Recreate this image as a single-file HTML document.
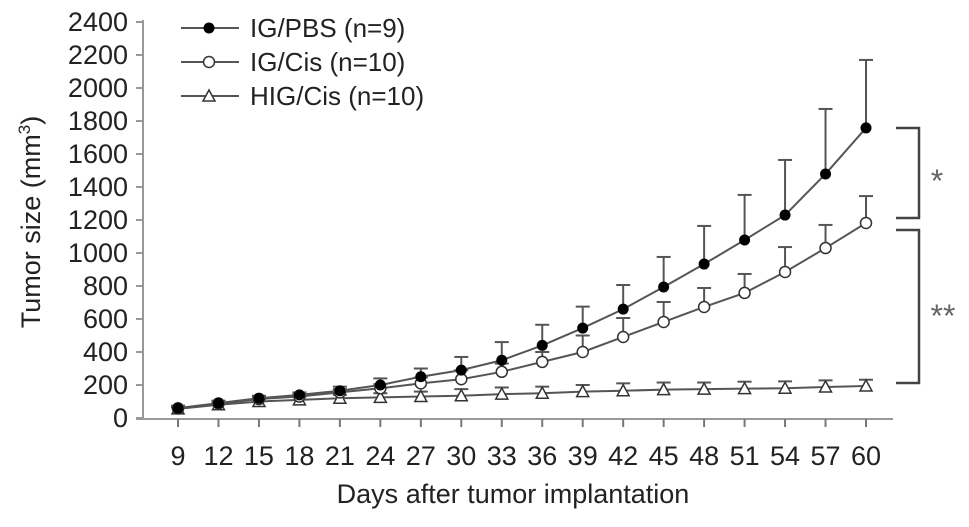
<!DOCTYPE html>
<html><head><meta charset="utf-8"><style>
body{margin:0;background:#fff;width:969px;height:522px;overflow:hidden;font-family:"Liberation Sans",Arial,sans-serif}
text{font-family:"Liberation Sans",Arial,sans-serif;fill:#222}
</style></head><body>
<svg id="chart" width="969" height="522" viewBox="0 0 969 522" xmlns="http://www.w3.org/2000/svg">
<g id="axes"></g><g id="series"></g>
<g>
 <g><line x1="181" y1="28" x2="239" y2="28" stroke="#555" stroke-width="2"/><circle cx="209" cy="28" r="5.5" fill="#000"/><text x="250" y="37" font-size="26">IG/PBS (n=9)</text></g>
 <g><line x1="181" y1="62" x2="239" y2="62" stroke="#555" stroke-width="2"/><circle cx="209" cy="62" r="5.5" fill="#fff" stroke="#333" stroke-width="1.5"/><text x="250" y="71" font-size="26">IG/Cis (n=10)</text></g>
 <g><line x1="181" y1="96" x2="239" y2="96" stroke="#555" stroke-width="2"/><path d="M209 90 L215 101 L203 101 Z" fill="#fff" stroke="#333" stroke-width="1.5"/><text x="250" y="105" font-size="26">HIG/Cis (n=10)</text></g>
</g>
<g><path d="M896 128 H919 V218 H896" fill="none" stroke="#444" stroke-width="2.5"/><text x="937" y="192" font-size="32" text-anchor="middle" style="fill:#666">*</text></g>
<g><path d="M896 230 H919 V383 H896" fill="none" stroke="#444" stroke-width="2.5"/><text x="943" y="327" font-size="32" text-anchor="middle" style="fill:#666">**</text></g>
<text x="513" y="503" font-size="27" text-anchor="middle">Days after tumor implantation</text>
<text transform="translate(40,222) rotate(-90)" font-size="27" text-anchor="middle">Tumor size (mm<tspan font-size="17" dy="-10">3</tspan><tspan dy="10">)</tspan></text>
</svg>
<script>
const days=[9,12,15,18,21,24,27,30,33,36,39,42,45,48,51,54,57,60];
const yTicks=[0,200,400,600,800,1000,1200,1400,1600,1800,2000,2200,2400];
const pbsMean=[60,90,120,140,165,200,250,290,350,440,545,660,794,933,1079,1230,1479,1758];
const pbsErr=[75,105,135,155,190,240,300,370,460,565,675,806,976,1164,1352,1564,1873,2170];
const cisMean=[58,88,115,130,155,180,210,235,280,340,400,491,582,673,758,885,1030,1182];
const cisErr=[70,100,128,145,175,205,245,290,330,400,500,606,703,788,873,1036,1170,1345];
const higMean=[55,80,100,110,120,125,130,135,145,150,160,165,172,175,178,180,188,194];
const higErr=[65,95,115,130,140,150,160,175,185,190,200,210,215,215,220,222,228,232];
const X=d=>178+(d-9)*(688/51);
const Y=v=>418-v*0.165;
const NS="http://www.w3.org/2000/svg";
function mk(tag,attrs,parent){const e=document.createElementNS(NS,tag);for(const k in attrs)e.setAttribute(k,attrs[k]);parent.appendChild(e);return e;}
const ax=document.getElementById('axes');
const ya=mk('line',{x1:143,y1:20,x2:143,y2:419,stroke:'#999','stroke-width':2},ax);


const xa=mk('line',{x1:136,y1:419,x2:893,y2:419,stroke:'#999','stroke-width':2},ax);


yTicks.forEach(v=>{
 mk('line',{x1:136,y1:Y(v),x2:143,y2:Y(v),stroke:'#999','stroke-width':2},ax);
 const t=mk('text',{x:128,y:Y(v)+9,'font-size':27,'text-anchor':'end'},ax);t.textContent=v;
 
 
});
days.forEach(d=>{
 mk('line',{x1:X(d),y1:419,x2:X(d),y2:427,stroke:'#777','stroke-width':2},ax);
 const t=mk('text',{x:X(d),y:465,'font-size':27,'text-anchor':'middle'},ax);t.textContent=d;
 
 
});
const sg=document.getElementById('series');
function series(name,mean,err,marker){
 const g=mk('g',{},sg);
 
 
 days.forEach((d,i)=>{
  mk('line',{x1:X(d),y1:Y(mean[i]),x2:X(d),y2:Y(err[i]),stroke:'#555','stroke-width':2},g);
  mk('line',{x1:X(d)-7,y1:Y(err[i]),x2:X(d)+7,y2:Y(err[i]),stroke:'#555','stroke-width':2},g);
 });
 mk('polyline',{points:days.map((d,i)=>X(d)+','+Y(mean[i])).join(' '),fill:'none',stroke:'#555','stroke-width':2},g);
 days.forEach((d,i)=>{
  const x=X(d),y=Y(mean[i]);let m;
  if(marker==='filled')m=mk('circle',{cx:x,cy:y,r:5.5,fill:'#000'},g);
  else if(marker==='open')m=mk('circle',{cx:x,cy:y,r:5.5,fill:'#fff',stroke:'#333','stroke-width':1.5},g);
  else m=mk('path',{d:`M${x} ${y-6} L${x+6} ${y+5} L${x-6} ${y+5} Z`,fill:'#fff',stroke:'#333','stroke-width':1.5},g);
  
  
 });
}
series('hig-cis-series',higMean,higErr,'tri');
series('ig-cis-series',cisMean,cisErr,'open');
series('ig-pbs-series',pbsMean,pbsErr,'filled');
</script>
</body></html>
